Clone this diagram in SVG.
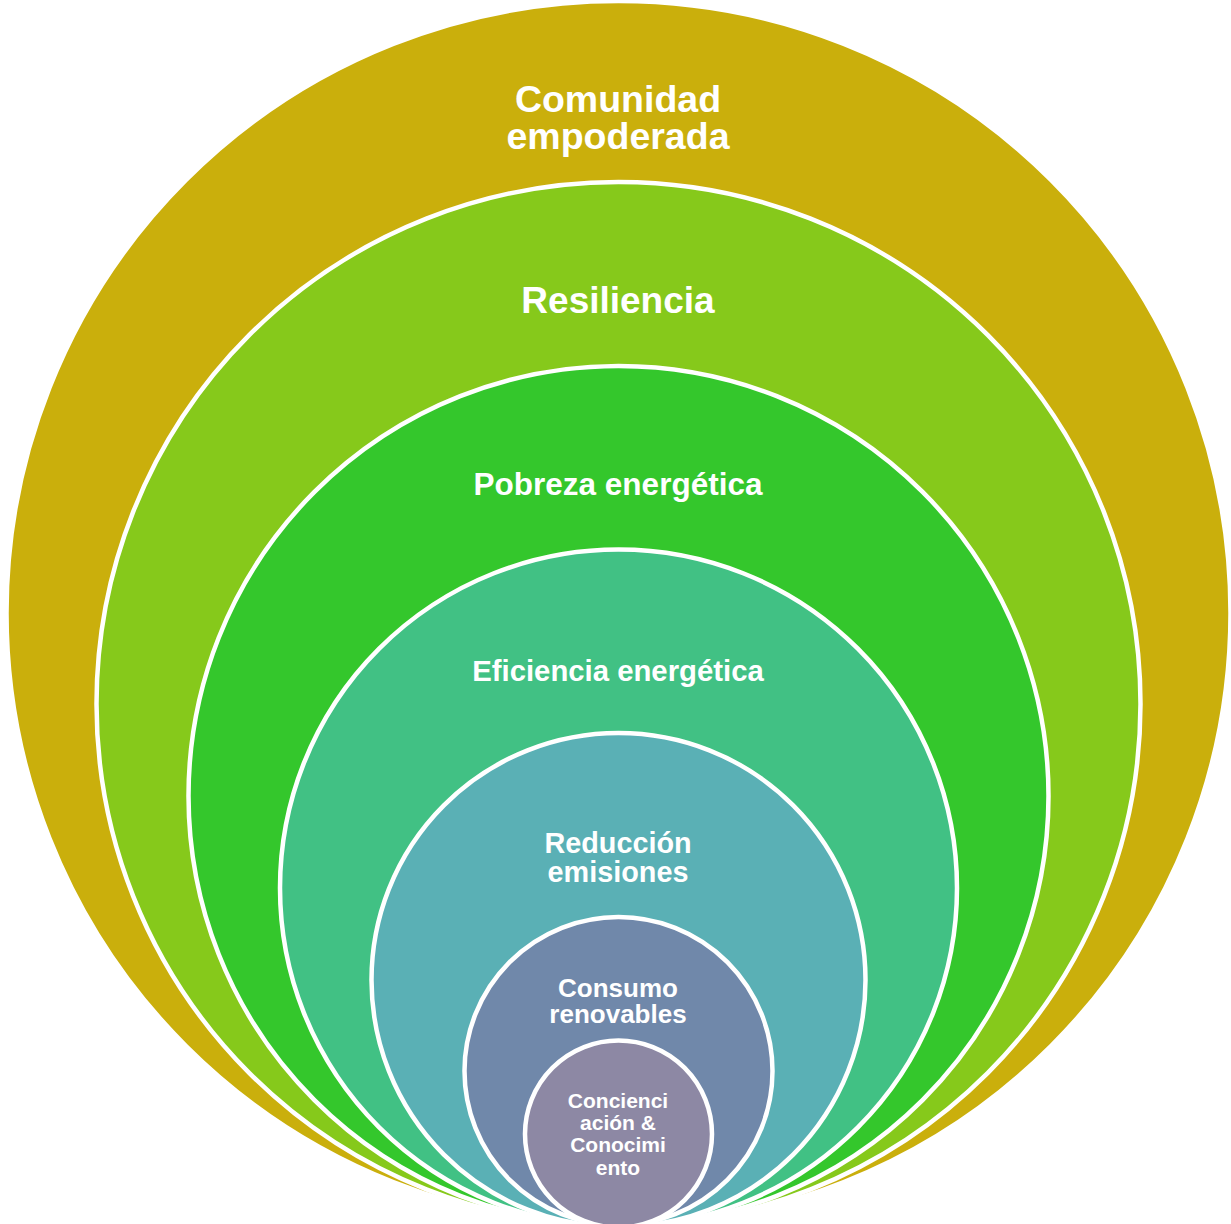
<svg xmlns="http://www.w3.org/2000/svg" width="1231" height="1224" viewBox="0 0 1231 1224">
<style>
.ring{stroke:#ffffff;stroke-width:4.5}
.t{font-family:"Liberation Sans",Arial,sans-serif;font-weight:bold;fill:#ffffff;text-anchor:middle}
</style>
<rect width="1231" height="1224" fill="#ffffff"/>
<g id="n1"><circle class="ring" cx="618.5" cy="613" r="612" fill="#CAAF0C"/>
<text class="t" x="618" y="112" font-size="37.5">Comunidad</text>
<text class="t" x="618" y="149" font-size="37.5">empoderada</text></g>
<g id="n2"><circle class="ring" cx="618.5" cy="704" r="522" fill="#86C91B"/>
<text class="t" x="618" y="313" font-size="37">Resiliencia</text></g>
<g id="n3"><circle class="ring" cx="618.5" cy="796" r="430" fill="#34C72C"/>
<text class="t" x="618" y="495" font-size="31.5">Pobreza energética</text></g>
<g id="n4"><circle class="ring" cx="618.5" cy="888" r="338.5" fill="#41C184"/>
<text class="t" x="618" y="681" font-size="29.3">Eficiencia energética</text></g>
<g id="n5"><circle class="ring" cx="618.5" cy="980" r="247" fill="#5AB0B5"/>
<text class="t" x="618" y="853" font-size="28.8">Reducción</text>
<text class="t" x="618" y="882" font-size="28.8">emisiones</text></g>
<g id="n6"><circle class="ring" cx="618.5" cy="1071" r="154" fill="#7088AA"/>
<text class="t" x="618" y="997" font-size="26">Consumo</text>
<text class="t" x="618" y="1023" font-size="26">renovables</text></g>
<g id="n7"><circle class="ring" cx="618.5" cy="1134" r="93.5" fill="#8D88A4"/>
<text class="t" x="618" y="1108" font-size="21">Concienci</text>
<text class="t" x="618" y="1130" font-size="21">ación &amp;</text>
<text class="t" x="618" y="1152" font-size="21">Conocimi</text>
<text class="t" x="618" y="1175" font-size="21">ento</text></g>
<g id="connectors"/>
</svg>
